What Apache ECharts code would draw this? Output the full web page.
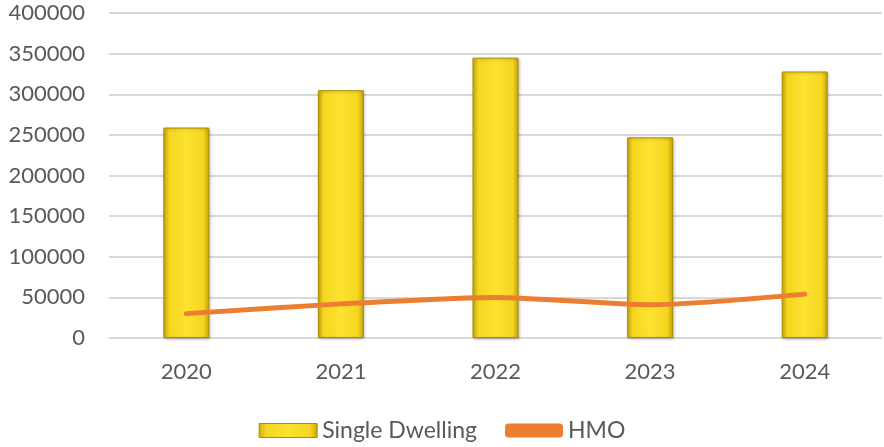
<!DOCTYPE html>
<html><head><meta charset="utf-8">
<script src="https://cdn.jsdelivr.net/npm/echarts@6/dist/echarts.min.js"></script>
<style>html,body{margin:0;padding:0;background:#fff}#c{width:884px;height:447px}</style>
</head><body><div id="c"></div>
<script>
var categories = ['2020','2021','2022','2023','2024'];
var singleDwelling = [259000, 305000, 345000, 247000, 328000];
var hmo = [30000, 42000, 50000, 41000, 54000];
var yTicks = {min:0, max:400000, interval:50000};

var barGrad = new echarts.graphic.LinearGradient(0,0,1,0,[
  {offset:0,color:'#CDAE0C'},
  {offset:0.13,color:'#F5D620'},
  {offset:0.5,color:'#FDE232'},
  {offset:0.87,color:'#F5D620'},
  {offset:1,color:'#C4A409'}
]);
var chart = echarts.init(document.getElementById('c'));
var font = 'Lato, "Open Sans", sans-serif';
chart.setOption({
  animation:false,
  textStyle:{fontFamily:font},
  grid:{left:109,right:2,top:13,bottom:109},
  legend:{
    bottom:0, left:'center', itemGap:28,
    textStyle:{fontSize:23,color:'#595959',fontFamily:font},
    data:[
      {name:'Single Dwelling', icon:'rect', itemStyle:{color:barGrad,borderColor:'#A88F00',borderWidth:1}},
      {name:'HMO', icon:'roundRect'}
    ],
    itemWidth:58, itemHeight:14
  },
  xAxis:{type:'category',data:categories,
    axisLine:{lineStyle:{color:'#D9D9D9',width:1}},axisTick:{show:false},
    axisLabel:{fontSize:22,color:'#595959',margin:23,fontFamily:font}},
  yAxis:{type:'value',min:yTicks.min,max:yTicks.max,interval:yTicks.interval,
    axisLine:{show:false},axisTick:{show:false},
    splitLine:{lineStyle:{color:'#D9D9D9',width:2}},
    axisLabel:{fontSize:22,color:'#595959',margin:24,fontFamily:font,
      formatter:function(v){return String(v);}}},
  series:[
    {name:'Single Dwelling',type:'bar',data:singleDwelling,barWidth:46,
      itemStyle:{color:barGrad,borderColor:'#A88F00',borderWidth:1,
        shadowColor:'rgba(0,0,0,0.25)',shadowBlur:3,shadowOffsetX:1,shadowOffsetY:1}},
    {name:'HMO',type:'line',data:hmo,smooth:0.25,symbol:'none',
      lineStyle:{color:'#ED7D31',width:5,cap:'round'},itemStyle:{color:'#ED7D31'}}
  ]
});
</script></body></html>
